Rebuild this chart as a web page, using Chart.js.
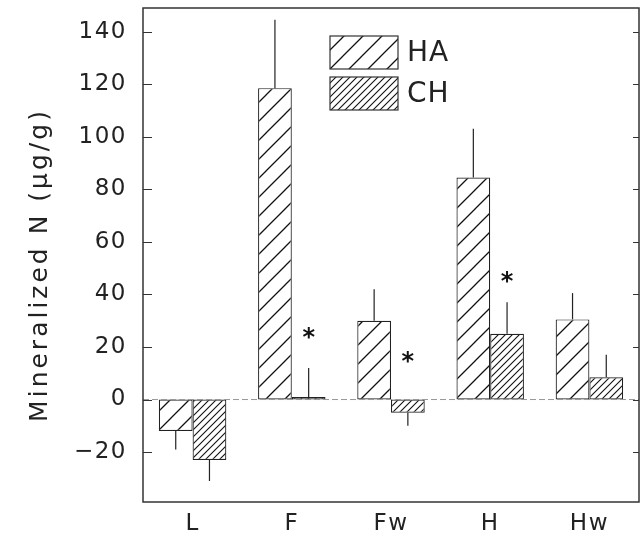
<!DOCTYPE html>
<html>
<head>
<meta charset="utf-8">
<script src="https://cdn.jsdelivr.net/npm/chart.js@4.4.0/dist/chart.umd.min.js"></script>
<style>
html,body{margin:0;padding:0;background:#fff;}
#wrap{width:642px;height:543px;}
</style>
</head>
<body>
<div id="wrap"><canvas id="c" width="642" height="543"></canvas></div>
<script>
// values
var categories = ['L', 'F', 'Fw', 'H', 'Hw'];
var haValues = [-12, 118.5, 30, 84.5, 30.5];
var haErrors = [7, 26, 12, 18.5, 10];
var chValues = [-23, 1, -5, 25, 8.5];
var chErrors = [8, 11, 5, 12, 8.5];
var starAt = [null, 25, 16, 46.5, null];   // asterisks above CH bars
var yTicks = [-20, 0, 20, 40, 60, 80, 100, 120, 140];
var yTitle = 'Mineralized N (µg/g)';

var FONT = "'DejaVu Sans', sans-serif";

function hatch(s, lw) {
  var c = document.createElement('canvas');
  c.width = s; c.height = s;
  var x = c.getContext('2d');
  x.fillStyle = '#fff';
  x.fillRect(0, 0, s, s);
  x.strokeStyle = '#111';
  x.lineWidth = lw;
  x.beginPath();
  x.moveTo(-1, s + 1); x.lineTo(s + 1, -1);
  x.moveTo(-2, 2); x.lineTo(2, -2);
  x.moveTo(s - 2, s + 2); x.lineTo(s + 2, s - 2);
  x.stroke();
  return document.getElementById('c').getContext('2d').createPattern(c, 'repeat');
}
var haFill = hatch(19, 1.3);
var chFill = hatch(7, 1.1);

var errs = [haErrors, chErrors];

var decor = {
  id: 'decor',
  beforeDraw: function(chart) {
    chart.ctx.letterSpacing = '1.5px';
  },
  afterDatasetsDraw: function(chart) {
    var ctx = chart.ctx, a = chart.chartArea, y = chart.scales.y;
    ctx.save();
    // zero line
    ctx.strokeStyle = '#999';
    ctx.lineWidth = 1;
    ctx.setLineDash([6, 3]);
    ctx.beginPath();
    ctx.moveTo(a.left, y.getPixelForValue(0));
    ctx.lineTo(a.right, y.getPixelForValue(0));
    ctx.stroke();
    ctx.setLineDash([]);
    // error bars (one-sided, away from zero)
    ctx.strokeStyle = '#222';
    ctx.lineWidth = 1.2;
    chart.data.datasets.forEach(function(ds, di) {
      chart.getDatasetMeta(di).data.forEach(function(bar, i) {
        var v = ds.data[i], e = errs[di][i];
        var end = v >= 0 ? v + e : v - e;
        ctx.beginPath();
        ctx.moveTo(bar.x, y.getPixelForValue(v));
        ctx.lineTo(bar.x, y.getPixelForValue(end));
        ctx.stroke();
      });
    });
    // asterisks
    ctx.fillStyle = '#111';
    ctx.letterSpacing = '0px';
    ctx.font = 'bold 24px ' + FONT;
    ctx.textAlign = 'center';
    ctx.textBaseline = 'middle';
    var chMeta = chart.getDatasetMeta(1);
    starAt.forEach(function(s, i) {
      if (s === null) return;
      ctx.fillText('*', chMeta.data[i].x, y.getPixelForValue(s) + 5);
    });
    // frame
    ctx.strokeStyle = '#333';
    ctx.lineWidth = 1.5;
    ctx.strokeRect(a.left, a.top, a.right - a.left, a.bottom - a.top);
    // inward ticks
    ctx.lineWidth = 1;
    yTicks.forEach(function(t) {
      var py = Math.round(y.getPixelForValue(t)) + 0.5;
      ctx.beginPath();
      ctx.moveTo(a.left, py); ctx.lineTo(a.left + 9, py);
      ctx.moveTo(a.right, py); ctx.lineTo(a.right - 6, py);
      ctx.stroke();
    });
    // legend
    var items = [['HA', haFill], ['CH', chFill]];
    ctx.font = '28px ' + FONT;
    ctx.letterSpacing = '1px';
    ctx.textAlign = 'left';
    items.forEach(function(it, k) {
      var bx = 330, by = 36 + k * 41;
      ctx.fillStyle = it[1];
      ctx.fillRect(bx, by, 68, 33);
      ctx.strokeStyle = '#333';
      ctx.lineWidth = 1.2;
      ctx.strokeRect(bx, by, 68, 33);
      ctx.fillStyle = '#222';
      ctx.fillText(it[0], bx + 77, by + 18);
    });
    // y axis title
    ctx.font = '25px ' + FONT;
    ctx.letterSpacing = '3px';
    ctx.textAlign = 'center';
    ctx.translate(40, (a.top + a.bottom) / 2 + 10);
    ctx.rotate(-Math.PI / 2);
    ctx.fillText(yTitle, 0, 0);
    ctx.restore();
  }
};

new Chart(document.getElementById('c'), {
  type: 'bar',
  data: {
    labels: categories,
    datasets: [
      { label: 'HA', data: haValues, backgroundColor: haFill, borderColor: '#222', borderWidth: 1.2, borderSkipped: false },
      { label: 'CH', data: chValues, backgroundColor: chFill, borderColor: '#222', borderWidth: 1.2, borderSkipped: false }
    ]
  },
  options: {
    responsive: false,
    animation: false,
    devicePixelRatio: 1,
    layout: { padding: { top: 8, right: 3, left: 0, bottom: 0 } },
    datasets: { bar: { categoryPercentage: 0.68, barPercentage: 1 } },
    plugins: { legend: { display: false }, tooltip: { enabled: false } },
    scales: {
      x: {
        grid: { display: false, drawTicks: false },
        border: { display: false },
        ticks: { color: '#222', font: { family: FONT, size: 23 }, padding: 8 },
        afterFit: function(s) { s.height = 41; s.paddingLeft = 0; s.paddingRight = 0; }
      },
      y: {
        min: -39, max: 149,
        grid: { display: false, drawTicks: false },
        border: { display: false },
        afterBuildTicks: function(s) { s.ticks = yTicks.map(function(v) { return { value: v }; }); },
        ticks: {
          color: '#222', font: { family: FONT, size: 23 }, padding: 16,
          callback: function(v) { return v < 0 ? '\u2212' + Math.abs(v) : String(v); }
        },
        afterFit: function(s) { s.width = 143; s.paddingTop = 0; s.paddingBottom = 0; }
      }
    }
  },
  plugins: [decor]
});
</script>
</body>
</html>
